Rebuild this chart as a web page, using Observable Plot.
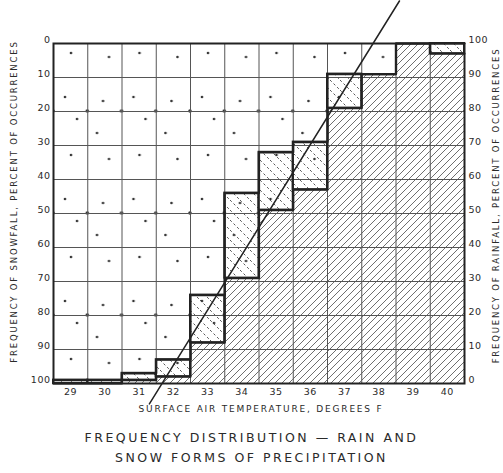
<!DOCTYPE html>
<html>
<head>
<meta charset="utf-8">
<script src="https://cdn.jsdelivr.net/npm/d3@7"></script>
<script src="https://cdn.jsdelivr.net/npm/@observablehq/plot@0.6"></script>
<style>
  html, body { margin: 0; padding: 0; background: #fff; }
  #chart svg { display: block; }
  #caption { width: 503px; text-align: center; font-family: "DejaVu Sans", sans-serif; font-size: 12.5px;
             letter-spacing: 2.5px; line-height: 20px; color: #2a2a2a; margin-top: 8px; }
</style>
</head>
<body>
<svg width="0" height="0" style="position:absolute">
  <defs>
    <pattern id="snowdots" patternUnits="userSpaceOnUse" x="53" y="43" width="68.5" height="102">
      <rect width="68.5" height="102" fill="#fff"/>
      <circle cx="18" cy="10" r="1.3" fill="#333"/>
      <circle cx="56" cy="14" r="1.3" fill="#333"/>
      <circle cx="12" cy="54" r="1.3" fill="#333"/>
      <circle cx="50" cy="58" r="1.3" fill="#333"/>
      <circle cx="24" cy="76" r="1.3" fill="#333"/>
      <circle cx="44" cy="90" r="1.3" fill="#333"/>
      <circle cx="0" cy="68" r="1.8" fill="#333"/>
      <circle cx="34.25" cy="68" r="1.8" fill="#333"/>
      <circle cx="68.5" cy="68" r="1.8" fill="#333"/>
    </pattern>
    <pattern id="hatch" patternUnits="userSpaceOnUse" width="7" height="7">
      <rect width="7" height="7" fill="#fff"/>
      <path d="M-1,1 l2,-2 M0,7 l7,-7 M6,8 l2,-2" stroke="#4a4a4a" stroke-width="0.8"/>
    </pattern>
    <pattern id="mixed" patternUnits="userSpaceOnUse" width="10" height="10">
      <path d="M0,0 L10,10" stroke="#444" stroke-width="0.9" stroke-dasharray="2.5,2.5"/>
    </pattern>
  </defs>
</svg>
<div id="chart"></div>
<div id="caption"></div>
<script>
// Temperature categories (degrees F)
const temps = [29, 30, 31, 32, 33, 34, 35, 36, 37, 38, 39, 40];
// Frequency of snowfall (percent, measured from the top / left axis)
const snowPct = [100, 100, 99, 98, 88, 69, 49, 43, 19, 9, 0, 3];
// Frequency of rainfall (percent, measured from the bottom / right axis)
const rainPct = [1, 1, 3, 7, 26, 56, 68, 71, 91, 91, 100, 100];
// Axis tick values
const pctTicks = [0, 10, 20, 30, 40, 50, 60, 70, 80, 90, 100];
// Straight trend line endpoints (temperature, snowfall %)
const trendTemp = [31.3, 38.6];
const trendSnow = [106, -12.5];
// Texts
const xLabel = "SURFACE AIR TEMPERATURE, DEGREES F";
const leftLabel = "FREQUENCY OF SNOWFALL, PERCENT OF OCCURRENCES";
const rightLabel = "FREQUENCY OF RAINFALL, PERCENT OF OCCURRENCES";
const titleLines = ["FREQUENCY DISTRIBUTION \u2014 RAIN AND", "SNOW FORMS OF PRECIPITATION"];

const cols = temps.map((t, i) => ({
  x1: t - 0.5, x2: t + 0.5, snow: snowPct[i], rainTop: 100 - rainPct[i]
}));
const overlap = cols.filter(d => d.snow > d.rainTop);
const edges = temps.slice(1).map(t => t - 0.5);
const upper = cols.flatMap(d => [{x: d.x1, y: d.rainTop}, {x: d.x2, y: d.rainTop}]);
const lower = cols.flatMap(d => [{x: d.x1, y: d.snow}, {x: d.x2, y: d.snow}]);
const trend = trendTemp.map((t, i) => ({x: t, y: trendSnow[i]}));

const ink = "#222";
const plot = Plot.plot({
  width: 503, height: 420,
  marginTop: 43, marginBottom: 37, marginLeft: 53, marginRight: 39,
  x: {domain: [28.5, 40.5]},
  y: {domain: [0, 100], reverse: true},
  style: {fontFamily: "DejaVu Sans, sans-serif", fontSize: "9.5px", color: "#2a2a2a", background: "#fff"},
  marks: [
    Plot.rect(cols, {x1: "x1", x2: "x2", y1: 0, y2: "snow", fill: "url(#snowdots)"}),
    Plot.rect(cols, {x1: "x1", x2: "x2", y1: "rainTop", y2: 100, fill: "url(#hatch)"}),
    Plot.rect(overlap, {x1: "x1", x2: "x2", y1: "rainTop", y2: "snow", fill: "url(#snowdots)"}),
    Plot.rect(overlap, {x1: "x1", x2: "x2", y1: "rainTop", y2: "snow", fill: "url(#mixed)"}),
    Plot.ruleX(edges, {stroke: "#555", strokeWidth: 1}),
    Plot.ruleY(pctTicks.slice(1, -1), {stroke: "#555", strokeWidth: 1}),
    Plot.rect(overlap, {x1: "x1", x2: "x2", y1: "rainTop", y2: "snow", stroke: ink, strokeWidth: 2}),
    Plot.line(upper, {x: "x", y: "y", stroke: ink, strokeWidth: 2.2}),
    Plot.line(lower, {x: "x", y: "y", stroke: ink, strokeWidth: 2.2}),
    Plot.line(trend, {x: "x", y: "y", stroke: ink, strokeWidth: 1.5}),
    Plot.frame({stroke: ink, strokeWidth: 2}),
    Plot.axisY(pctTicks, {anchor: "left", tickSize: 0, tickPadding: 3, dy: -4, label: null}),
    Plot.axisY(pctTicks, {anchor: "right", tickSize: 0, tickPadding: 4, dy: -4, label: null, tickFormat: d => String(100 - d)}),
    Plot.axisX(temps, {anchor: "bottom", tickSize: 0, tickPadding: 5, label: null, tickFormat: d => String(d)}),
    Plot.text([xLabel], {frameAnchor: "bottom", textAnchor: "middle", lineAnchor: "middle", dx: 2, dy: 26, fontSize: 9}),
    Plot.text([leftLabel], {frameAnchor: "left", textAnchor: "middle", lineAnchor: "middle", rotate: -90, dx: -39, dy: -12, fontSize: 8.5}),
    Plot.text([rightLabel], {frameAnchor: "right", textAnchor: "middle", lineAnchor: "middle", rotate: -90, dx: 32, dy: -8, fontSize: 8.5})
  ]
});
plot.querySelectorAll("g[aria-label='text'] text").forEach(t => t.setAttribute("letter-spacing", "1.8"));
plot.querySelectorAll("g[aria-label$='tick label'] text").forEach(t => t.setAttribute("letter-spacing", "0.5"));
document.getElementById("chart").appendChild(plot);
document.getElementById("caption").innerHTML = titleLines.join("<br>");
</script>
</body>
</html>
